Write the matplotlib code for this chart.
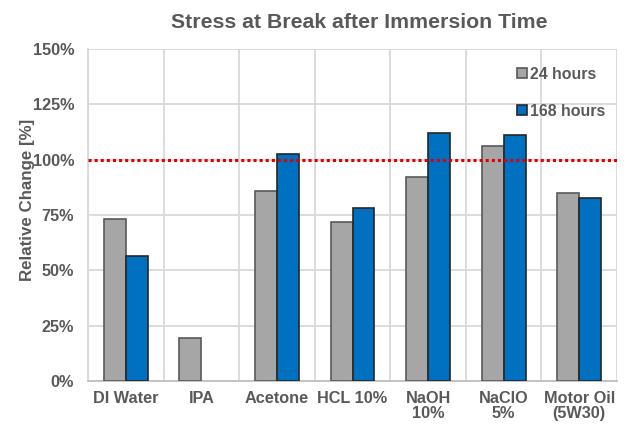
import numpy as np
import matplotlib.pyplot as plt
from matplotlib.ticker import FixedLocator, PercentFormatter

plt.rcParams['font.family'] = ['Liberation Sans', 'DejaVu Sans']

categories = ['DI Water', 'IPA', 'Acetone', 'HCL 10%', 'NaOH\n10%', 'NaClO\n5%', 'Motor Oil\n(5W30)']
hours_24 = [73, 19.5, 86, 72, 92, 106, 85]
hours_168 = [56.5, 0, 102.5, 78, 112, 111, 82.5]
series_labels = ['24 hours', '168 hours']

txt = '#595959'
fig = plt.figure(figsize=(6.26, 4.28), dpi=100)
ax = fig.add_axes([0.1406, 0.1098, 0.845, 0.7757])

x = np.arange(len(categories))
w = 0.29
h168 = np.array(hours_168)
b1 = ax.bar(x - w / 2, hours_24, w, color='#a6a6a6', edgecolor='#595959', linewidth=1.2,
            label=series_labels[0], zorder=3)
b2 = ax.bar(x[h168 > 0] + w / 2, h168[h168 > 0], w,
            color='#0070c0', edgecolor='#262626', linewidth=1.2, label=series_labels[1], zorder=3)

ax.axhline(100, color='#e00000', linestyle=(0, (1, 1)), linewidth=2.2, zorder=4)

ax.set_xlim(-0.5, len(categories) - 0.5)
ax.set_ylim(0, 150)
ax.set_yticks(np.arange(0, 151, 25))
ax.yaxis.set_major_formatter(PercentFormatter(decimals=0))
ax.set_xticks(x)
ax.set_xticklabels(categories)
ax.xaxis.set_minor_locator(FixedLocator(np.arange(-0.5, len(categories), 1)))
ax.grid(True, which='minor', axis='x', color='#d9d9d9', linewidth=1.3, zorder=0)
ax.grid(True, which='major', axis='y', color='#d9d9d9', linewidth=1.3, zorder=0)
ax.tick_params(which='both', length=0)
ax.tick_params(axis='x', pad=7)
ax.tick_params(axis='y', pad=10)
for lab in ax.get_xticklabels() + ax.get_yticklabels():
    lab.set_fontweight('bold')
    lab.set_color(txt)
    lab.set_fontsize(11.7)
for lab in ax.get_xticklabels():
    lab.set_linespacing(1.0)
for s in ['top', 'right']:
    ax.spines[s].set_visible(False)
ax.spines['left'].set_color('#d9d9d9')
ax.spines['left'].set_linewidth(1.3)
ax.spines['bottom'].set_color('#bfbfbf')
ax.spines['bottom'].set_linewidth(1.3)

ax.set_ylabel('Relative Change [%]', fontsize=12.2, fontweight='bold', color=txt)
ax.yaxis.set_label_coords(-0.100, 0.545)
ax.set_title('Stress at Break after Immersion Time', fontsize=15.3, fontweight='bold', color=txt,
             pad=15, x=0.512)

leg = ax.legend(loc='upper right', bbox_to_anchor=(1.005, 0.99), frameon=False, fontsize=11.4,
                handlelength=0.6, handleheight=0.6, handletextpad=0.2, labelspacing=1.4)
for t in leg.get_texts():
    t.set_fontweight('bold')
    t.set_color(txt)

fig.savefig('out.png', dpi=100)
